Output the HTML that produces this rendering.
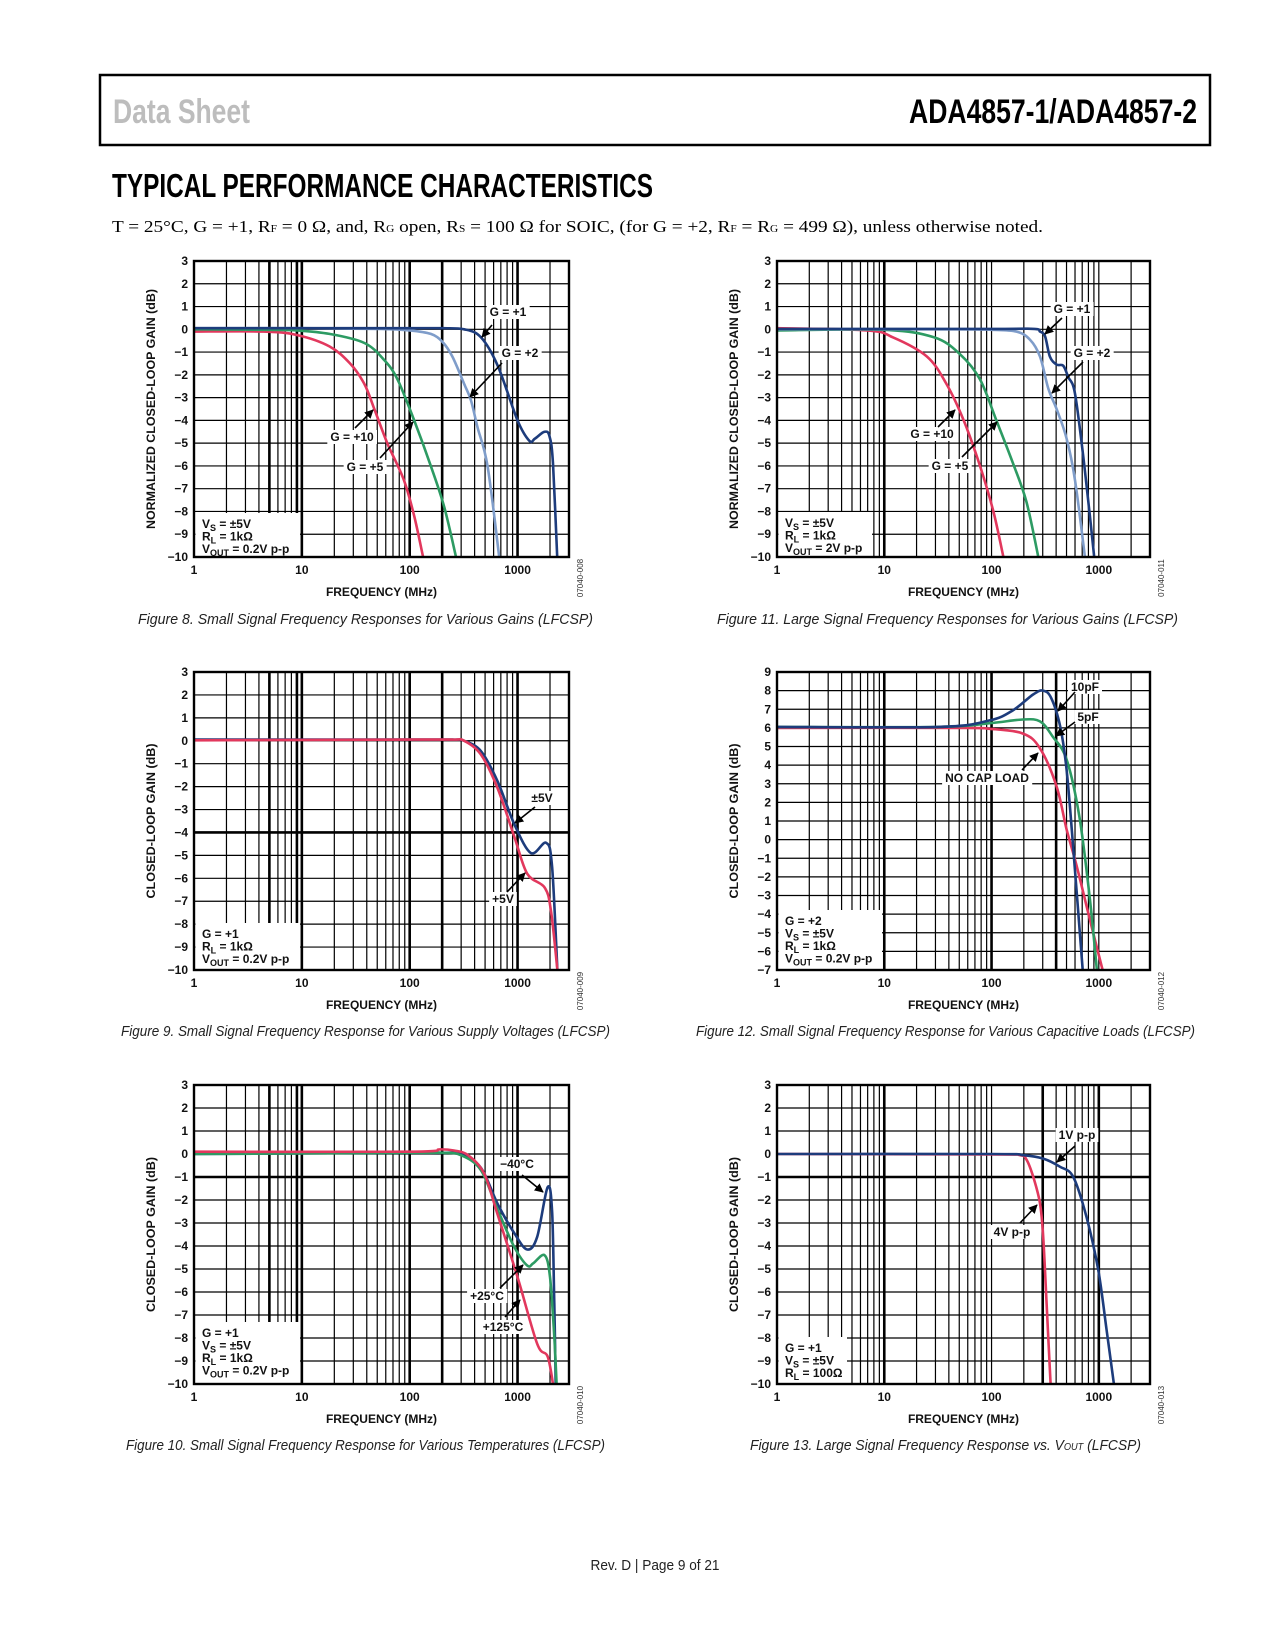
<!DOCTYPE html>
<html><head><meta charset="utf-8"><title>ADA4857 Typical Performance Characteristics</title>
<style>
html,body{margin:0;padding:0;background:#fff;}
svg{display:block;}
text{font-family:"Liberation Sans",sans-serif;}
.tk{font-size:12px;font-weight:bold;fill:#111;}
.cap{font-size:15px;font-style:italic;fill:#222;}
</style></head>
<body>
<svg id="page" width="1275" height="1650" viewBox="0 0 1275 1650" xmlns="http://www.w3.org/2000/svg">
<defs>
<marker id="ah" viewBox="0 0 10 10" refX="9" refY="5" markerWidth="9" markerHeight="9" markerUnits="userSpaceOnUse" orient="auto"><path d="M0,0 L10,5 L0,10 z" fill="#000"/></marker>
</defs>
<rect x="100" y="75" width="1110" height="70" fill="none" stroke="#000" stroke-width="2.5"/>
<text x="113" y="123" font-size="34" font-weight="bold" fill="#bdbdbd" textLength="137" lengthAdjust="spacingAndGlyphs">Data Sheet</text>
<text x="1197" y="123" font-size="34" font-weight="bold" fill="#000" text-anchor="end" textLength="288" lengthAdjust="spacingAndGlyphs">ADA4857-1/ADA4857-2</text>
<text x="112" y="197" font-size="33" font-weight="bold" fill="#000" textLength="541" lengthAdjust="spacingAndGlyphs">TYPICAL PERFORMANCE CHARACTERISTICS</text>
<text x="112" y="232" font-size="17" fill="#000" style="font-family:'Liberation Serif',serif" textLength="931" lengthAdjust="spacingAndGlyphs">T = 25°C, G = +1, R<tspan font-size="10">F</tspan> = 0 Ω, and, R<tspan font-size="10">G</tspan> open, R<tspan font-size="10">S</tspan> = 100 Ω for SOIC, (for G = +2, R<tspan font-size="10">F</tspan> = R<tspan font-size="10">G</tspan> = 499 Ω), unless otherwise noted.</text>

<text class="cap" x="138" y="624" textLength="455" lengthAdjust="spacingAndGlyphs">Figure 8. Small Signal Frequency Responses for Various Gains (LFCSP)</text>
<text class="cap" x="717" y="624" textLength="461" lengthAdjust="spacingAndGlyphs">Figure 11. Large Signal Frequency Responses for Various Gains (LFCSP)</text>
<text class="cap" x="121" y="1036" textLength="489" lengthAdjust="spacingAndGlyphs">Figure 9. Small Signal Frequency Response for Various Supply Voltages (LFCSP)</text>
<text class="cap" x="696" y="1036" textLength="499" lengthAdjust="spacingAndGlyphs">Figure 12. Small Signal Frequency Response for Various Capacitive Loads (LFCSP)</text>
<text class="cap" x="126" y="1450" textLength="479" lengthAdjust="spacingAndGlyphs">Figure 10. Small Signal Frequency Response for Various Temperatures (LFCSP)</text>
<text class="cap" x="750" y="1450" textLength="391" lengthAdjust="spacingAndGlyphs">Figure 13. Large Signal Frequency Response vs. V<tspan font-size="10">OUT</tspan> (LFCSP)</text>

<text x="655" y="1570" font-size="15" fill="#222" text-anchor="middle" textLength="129" lengthAdjust="spacingAndGlyphs">Rev. D | Page 9 of 21</text>
</svg>
<script>
// ---------- shared axis data ----------
const xTickValues = [1, 10, 100, 1000];
const xTickLabels = ["1", "10", "100", "1000"];
const minorMultipliers = [1, 2, 3, 4, 5, 6, 7, 8, 9];
const X_MAX = 3000;

// ---------- Figure 8 ----------
const f8_yTicks = [3,2,1,0,-1,-2,-3,-4,-5,-6,-7,-8,-9,-10];
const f8_freq_g1 = [1,10,100,200,320,457,655,1000,1288,1450,1775,1980,2130,2330];
const f8_gain_g1 = [0.05,0.05,0.05,0.05,0,-0.35,-1.6,-4,-4.9,-4.8,-4.5,-4.7,-5.9,-10];
const f8_freq_g2 = [1,10,50,100,157,201,249,320,369,425,527,676];
const f8_gain_g2 = [0.05,0.05,0.02,-0.05,-0.2,-0.55,-1.2,-2.4,-3.1,-4.3,-6.0,-10];
const f8_freq_g5 = [1,5,9,18,38,58,77,110,157,209,269];
const f8_gain_g5 = [0,-0.02,-0.05,-0.2,-0.6,-1.35,-2.2,-4,-6,-7.8,-10];
const f8_freq_g10 = [1,4.4,9,18,28,38,47,62,88,110,133];
const f8_gain_g10 = [-0.1,-0.1,-0.25,-0.75,-1.5,-2.4,-3.5,-5,-6.6,-8.2,-10];

// ---------- Figure 11 ----------
const f11_yTicks = [3,2,1,0,-1,-2,-3,-4,-5,-6,-7,-8,-9,-10];
const f11_freq_g1 = [1,100,250,283,315,350,404,466,519,599,716,826,906];
const f11_gain_g1 = [0.02,0.02,0.02,-0.1,-0.3,-1.2,-1.55,-1.6,-2.1,-2.8,-5.6,-8.2,-10];
const f11_freq_g2 = [1,50,100,171,228,283,338,404,501,599,742];
const f11_gain_g2 = [0,0,-0.02,-0.1,-0.45,-1.2,-2.6,-3.5,-4.8,-6.6,-10];
const f11_freq_g5 = [1,9.8,29,51,78,111,159,212,273];
const f11_gain_g5 = [-0.05,-0.02,-0.35,-1.1,-2.2,-4,-5.9,-7.6,-10];
const f11_freq_g10 = [1,6.9,12,25,38,55,78,104,129];
const f11_gain_g10 = [0.05,-0.05,-0.35,-1.2,-2.4,-4,-6,-8,-10];

// ---------- Figure 9 ----------
const f9_yTicks = [3,2,1,0,-1,-2,-3,-4,-5,-6,-7,-8,-9,-10];
const f9_freq_pm5 = [1,100,250,320,457,650,935,1334,1840,2090,2340];
const f9_gain_pm5 = [0.05,0.05,0.05,0,-0.45,-1.75,-3.65,-4.9,-4.45,-5.5,-10];
const f9_freq_p5 = [1,100,250,320,457,650,935,1230,1780,2040,2340];
const f9_gain_p5 = [0.02,0.05,0.05,0,-0.6,-2.05,-4.2,-5.8,-6.4,-7.4,-10];

// ---------- Figure 12 ----------
const f12_yTicks = [9,8,7,6,5,4,3,2,1,0,-1,-2,-3,-4,-5,-6,-7];
const f12_freq_nocap = [1,50,96,195,283,404,501,621,826,1084];
const f12_gain_nocap = [6,6,5.95,5.7,4.9,2.85,0.55,-1.4,-4.3,-7];
const f12_freq_5pf = [1,32,96,195,283,370,501,660,826,960];
const f12_gain_5pf = [6.05,6.05,6.25,6.45,6.35,5.55,4.3,1.2,-3.2,-7];
const f12_freq_10pf = [1,32,96,159,245,302,360,437,501,575,707];
const f12_gain_10pf = [6.05,6.05,6.4,6.95,7.8,8.0,7.6,6.05,3.75,-0.3,-7];

// ---------- Figure 10 ----------
const f10_yTicks = [3,2,1,0,-1,-2,-3,-4,-5,-6,-7,-8,-9,-10];
const f10_freq_m40 = [1,100,200,298,457,650,935,1230,1520,1900,2090,2190,2260];
const f10_gain_m40 = [0,0.05,0.05,0,-0.6,-2.15,-3.45,-4.15,-3.6,-1.45,-2.5,-6.5,-10];
const f10_freq_p25 = [1,100,200,298,457,650,935,1230,1400,1780,2000,2190,2300];
const f10_gain_p25 = [0,0.05,0.05,-0.05,-0.7,-2.4,-4.05,-4.85,-4.75,-4.4,-5.35,-7.95,-10];
const f10_freq_p125 = [1,100,190,257,347,490,650,1000,1520,1900,2130];
const f10_gain_p125 = [0.1,0.1,0.2,0.15,-0.05,-0.85,-2.6,-5.35,-8.25,-8.8,-10];

// ---------- Figure 13 ----------
const f13_yTicks = [3,2,1,0,-1,-2,-3,-4,-5,-6,-7,-8,-9,-10];
const f13_freq_4v = [1,100,184,212,245,283,303,326,355];
const f13_gain_4v = [0,-0.02,-0.05,-0.25,-1.0,-2.15,-3.6,-6.5,-10];
const f13_freq_1v = [1,100,198,303,434,578,769,988,1181,1382];
const f13_gain_1v = [0,0,-0.05,-0.2,-0.55,-1.0,-2.75,-5.05,-7.65,-10];

const DARK = "#1d3c7c", LIGHT = "#7f9dca", GREEN = "#2d9b63", RED = "#e2385d";
const NS = "http://www.w3.org/2000/svg";
const svg = document.getElementById("page");

function mk(tag, parent) {
  const e = document.createElementNS(NS, tag);
  parent.appendChild(e);
  return e;
}
function fmtTick(v) { return v < 0 ? "\u2212" + Math.abs(v) : String(v); }

function smoothPath(pts) {
  let d = "M" + pts[0][0].toFixed(1) + "," + pts[0][1].toFixed(1);
  for (let i = 0; i < pts.length - 1; i++) {
    const p0 = pts[i - 1] || pts[i], p1 = pts[i], p2 = pts[i + 1], p3 = pts[i + 2] || p2;
    const c1x = p1[0] + (p2[0] - p0[0]) / 6, c1y = p1[1] + (p2[1] - p0[1]) / 6;
    const c2x = p2[0] - (p3[0] - p1[0]) / 6, c2y = p2[1] - (p3[1] - p1[1]) / 6;
    d += " C" + c1x.toFixed(1) + "," + c1y.toFixed(1) + " " + c2x.toFixed(1) + "," + c2y.toFixed(1) + " " + p2[0].toFixed(1) + "," + p2[1].toFixed(1);
  }
  return d;
}

function drawChart(c) {
  const g = mk("g", svg);
  
  
  const ymax = c.yTicks[0], ymin = c.yTicks[c.yTicks.length - 1];
  const xs = f => c.L + Math.log10(f) / Math.log10(X_MAX) * (c.R - c.L);
  const ys = v => c.T + (ymax - v) / (ymax - ymin) * (c.B - c.T);

  for (let dec = 1; dec <= 1000; dec *= 10) {
    for (const m of minorMultipliers) {
      const f = dec * m;
      if (f <= 1 || f >= X_MAX) continue;
      const ln = mk("line", g);
      
      
      const x = xs(f);
      ln.setAttribute("x1", x); ln.setAttribute("x2", x);
      ln.setAttribute("y1", c.T); ln.setAttribute("y2", c.B);
      ln.setAttribute("stroke", "#000");
      ln.setAttribute("stroke-width", c.thickX.includes(f) ? 2.6 : 1.2);
    }
  }
  for (const v of c.yTicks) {
    if (v === ymax || v === ymin) continue;
    const ln = mk("line", g);
    
    
    const y = ys(v);
    ln.setAttribute("x1", c.L); ln.setAttribute("x2", c.R);
    ln.setAttribute("y1", y); ln.setAttribute("y2", y);
    ln.setAttribute("stroke", "#000");
    ln.setAttribute("stroke-width", c.thickY.includes(v) ? 2.6 : 1.2);
  }

  const lb = mk("rect", g);
  
  
  lb.setAttribute("x", c.L + 1.5); lb.setAttribute("y", c.box.top);
  lb.setAttribute("width", c.box.right - c.L - 1.5); lb.setAttribute("height", c.B - c.box.top - 1);
  lb.setAttribute("fill", "#fff");

  for (const s of c.series) {
    const p = mk("path", g);
    
    
    const pts = s.f.map((f, i) => [xs(f), ys(s.g[i])]);
    p.setAttribute("d", smoothPath(pts));
    p.setAttribute("fill", "none");
    p.setAttribute("stroke", s.color);
    p.setAttribute("stroke-width", 2.6);
    p.setAttribute("stroke-linejoin", "round");
  }

  const fr = mk("rect", g);
  
  
  fr.setAttribute("x", c.L); fr.setAttribute("y", c.T);
  fr.setAttribute("width", c.R - c.L); fr.setAttribute("height", c.B - c.T);
  fr.setAttribute("fill", "none"); fr.setAttribute("stroke", "#000"); fr.setAttribute("stroke-width", 2.4);

  for (const v of c.yTicks) {
    const t = mk("text", g);
    
    
    t.setAttribute("class", "tk");
    t.setAttribute("x", c.L - 6); t.setAttribute("y", ys(v) + 4);
    t.setAttribute("text-anchor", "end");
    t.textContent = fmtTick(v);
  }
  xTickValues.forEach((v, i) => {
    const t = mk("text", g);
    
    
    t.setAttribute("class", "tk");
    t.setAttribute("x", xs(v)); t.setAttribute("y", c.B + 17);
    t.setAttribute("text-anchor", "middle");
    t.textContent = xTickLabels[i];
  });
  const xt = mk("text", g);
  
  
  xt.setAttribute("class", "tk");
  xt.setAttribute("x", (c.L + c.R) / 2); xt.setAttribute("y", c.B + 39);
  xt.setAttribute("text-anchor", "middle");
  xt.textContent = "FREQUENCY (MHz)";
  const yt = mk("text", g);
  
  
  yt.setAttribute("class", "tk");
  yt.setAttribute("transform", "translate(" + (c.L - 39) + "," + ((c.T + c.B) / 2) + ") rotate(-90)");
  yt.setAttribute("text-anchor", "middle");
  yt.setAttribute("textLength", c.yTitleLen);
  yt.setAttribute("lengthAdjust", "spacingAndGlyphs");
  yt.textContent = c.yTitle;
  const cd = mk("text", g);
  
  
  cd.setAttribute("font-size", "8");
  cd.setAttribute("fill", "#333");
  cd.setAttribute("transform", "translate(" + (c.R + 14) + "," + (c.B + 21) + ") rotate(-90)");
  cd.setAttribute("text-anchor", "middle");
  cd.textContent = c.code;

  c.box.lines.forEach((html, i) => {
    const t = mk("text", g);
    
    
    t.setAttribute("class", "tk");
    t.setAttribute("x", c.L + 8); t.setAttribute("y", c.box.top + 15 + i * 12.5);
    t.innerHTML = html;
  });

  for (const a of c.labels) {
    const t = mk("text", g);
    
    
    t.setAttribute("class", "tk");
    t.setAttribute("x", a.x); t.setAttribute("y", a.y + 4);
    t.setAttribute("text-anchor", "middle");
    t.textContent = a.text;
    const bb = t.getBBox();
    const r = document.createElementNS(NS, "rect");
    
    
    r.setAttribute("x", bb.x - 3); r.setAttribute("y", bb.y);
    r.setAttribute("width", bb.width + 6); r.setAttribute("height", bb.height);
    r.setAttribute("fill", "#fff");
    g.insertBefore(r, t);
    const ar = mk("line", g);
    
    
    ar.setAttribute("x1", a.ax1); ar.setAttribute("y1", a.ay1);
    ar.setAttribute("x2", a.ax2); ar.setAttribute("y2", a.ay2);
    ar.setAttribute("stroke", "#000"); ar.setAttribute("stroke-width", 1.6);
    ar.setAttribute("marker-end", "url(#ah)");
  }
}

const sub = (a, b, rest) => a + '<tspan font-size="9" dy="3">' + b + '</tspan><tspan dy="-3">' + rest + '</tspan>';
const VS = sub("V", "S", " = \u00B15V"), RL = sub("R", "L", " = 1k\u03A9");
const VOUT02 = sub("V", "OUT", " = 0.2V p-p");

drawChart({ id: "chart-figure-8", L: 194, R: 569, T: 261, B: 557, yTicks: f8_yTicks,
  thickX: [5, 9, 10, 100, 200, 1000], thickY: [],
  yTitle: "NORMALIZED CLOSED-LOOP GAIN (dB)", yTitleLen: 240, code: "07040-008",
  box: { right: 300, top: 513, lines: [VS, RL, VOUT02] },
  series: [
    { name: "series-g-plus10", color: RED, f: f8_freq_g10, g: f8_gain_g10 },
    { name: "series-g-plus5", color: GREEN, f: f8_freq_g5, g: f8_gain_g5 },
    { name: "series-g-plus2", color: LIGHT, f: f8_freq_g2, g: f8_gain_g2 },
    { name: "series-g-plus1", color: DARK, f: f8_freq_g1, g: f8_gain_g1 }],
  labels: [
    { text: "G = +1", x: 508, y: 312, ax1: 492, ay1: 325, ax2: 482, ay2: 337 },
    { text: "G = +2", x: 520, y: 353, ax1: 502, ay1: 363, ax2: 470, ay2: 397 },
    { text: "G = +10", x: 352, y: 437, ax1: 355, ay1: 428, ax2: 373, ay2: 410 },
    { text: "G = +5", x: 365, y: 467, ax1: 380, ay1: 458, ax2: 413, ay2: 422 }] });

drawChart({ id: "chart-figure-11", L: 777, R: 1150, T: 261, B: 557, yTicks: f11_yTicks,
  thickX: [10], thickY: [],
  yTitle: "NORMALIZED CLOSED-LOOP GAIN (dB)", yTitleLen: 240, code: "07040-011",
  box: { right: 872, top: 512, lines: [VS, RL, sub("V", "OUT", " = 2V p-p")] },
  series: [
    { name: "series-g-plus10", color: RED, f: f11_freq_g10, g: f11_gain_g10 },
    { name: "series-g-plus5", color: GREEN, f: f11_freq_g5, g: f11_gain_g5 },
    { name: "series-g-plus2", color: LIGHT, f: f11_freq_g2, g: f11_gain_g2 },
    { name: "series-g-plus1", color: DARK, f: f11_freq_g1, g: f11_gain_g1 }],
  labels: [
    { text: "G = +1", x: 1072, y: 309, ax1: 1062, ay1: 318, ax2: 1045, ay2: 334 },
    { text: "G = +2", x: 1092, y: 353, ax1: 1083, ay1: 362, ax2: 1052, ay2: 393 },
    { text: "G = +10", x: 932, y: 434, ax1: 938, ay1: 427, ax2: 955, ay2: 410 },
    { text: "G = +5", x: 950, y: 466, ax1: 962, ay1: 457, ax2: 997, ay2: 422 }] });

drawChart({ id: "chart-figure-9", L: 194, R: 569, T: 672, B: 970, yTicks: f9_yTicks,
  thickX: [5, 9, 10, 100, 200, 1000], thickY: [-4],
  yTitle: "CLOSED-LOOP GAIN (dB)", yTitleLen: 155, code: "07040-009",
  box: { right: 300, top: 923, lines: ["G = +1", RL, VOUT02] },
  series: [
    { name: "series-dual-5v", color: DARK, f: f9_freq_pm5, g: f9_gain_pm5 },
    { name: "series-single-5v", color: RED, f: f9_freq_p5, g: f9_gain_p5 }],
  labels: [
    { text: "\u00B15V", x: 542, y: 798, ax1: 535, ay1: 807, ax2: 515, ay2: 823 },
    { text: "+5V", x: 503, y: 899, ax1: 507, ay1: 892, ax2: 525, ay2: 873 }] });

drawChart({ id: "chart-figure-12", L: 777, R: 1150, T: 672, B: 970, yTicks: f12_yTicks,
  thickX: [10, 100, 400], thickY: [],
  yTitle: "CLOSED-LOOP GAIN (dB)", yTitleLen: 155, code: "07040-012",
  box: { right: 882, top: 910, lines: ["G = +2", VS, RL, VOUT02] },
  series: [
    { name: "series-no-cap-load", color: RED, f: f12_freq_nocap, g: f12_gain_nocap },
    { name: "series-5pf", color: GREEN, f: f12_freq_5pf, g: f12_gain_5pf },
    { name: "series-10pf", color: DARK, f: f12_freq_10pf, g: f12_gain_10pf }],
  labels: [
    { text: "10pF", x: 1085, y: 687, ax1: 1075, ay1: 692, ax2: 1058, ay2: 711 },
    { text: "5pF", x: 1088, y: 717, ax1: 1075, ay1: 722, ax2: 1056, ay2: 736 },
    { text: "NO CAP LOAD", x: 987, y: 778, ax1: 1022, ay1: 770, ax2: 1038, ay2: 753 }] });

drawChart({ id: "chart-figure-10", L: 194, R: 569, T: 1085, B: 1384, yTicks: f10_yTicks,
  thickX: [5, 9, 10, 100, 200, 1000], thickY: [-1],
  yTitle: "CLOSED-LOOP GAIN (dB)", yTitleLen: 155, code: "07040-010",
  box: { right: 300, top: 1322, lines: ["G = +1", VS, RL, VOUT02] },
  series: [
    { name: "series-minus-40c", color: DARK, f: f10_freq_m40, g: f10_gain_m40 },
    { name: "series-plus-25c", color: GREEN, f: f10_freq_p25, g: f10_gain_p25 },
    { name: "series-plus-125c", color: RED, f: f10_freq_p125, g: f10_gain_p125 }],
  labels: [
    { text: "\u221240\u00B0C", x: 517, y: 1164, ax1: 522, ay1: 1175, ax2: 543, ay2: 1192 },
    { text: "+25\u00B0C", x: 487, y: 1296, ax1: 500, ay1: 1288, ax2: 523, ay2: 1265 },
    { text: "+125\u00B0C", x: 503, y: 1327, ax1: 505, ay1: 1317, ax2: 520, ay2: 1300 }] });

drawChart({ id: "chart-figure-13", L: 777, R: 1150, T: 1085, B: 1384, yTicks: f13_yTicks,
  thickX: [10, 300, 1000], thickY: [-1],
  yTitle: "CLOSED-LOOP GAIN (dB)", yTitleLen: 155, code: "07040-013",
  box: { right: 847, top: 1337, lines: ["G = +1", VS, sub("R", "L", " = 100\u03A9")] },
  series: [
    { name: "series-4v-pp", color: RED, f: f13_freq_4v, g: f13_gain_4v },
    { name: "series-1v-pp", color: DARK, f: f13_freq_1v, g: f13_gain_1v }],
  labels: [
    { text: "1V p-p", x: 1077, y: 1135, ax1: 1075, ay1: 1146, ax2: 1057, ay2: 1162 },
    { text: "4V p-p", x: 1012, y: 1232, ax1: 1020, ay1: 1223, ax2: 1037, ay2: 1205 }] });
</script>
</body></html>
